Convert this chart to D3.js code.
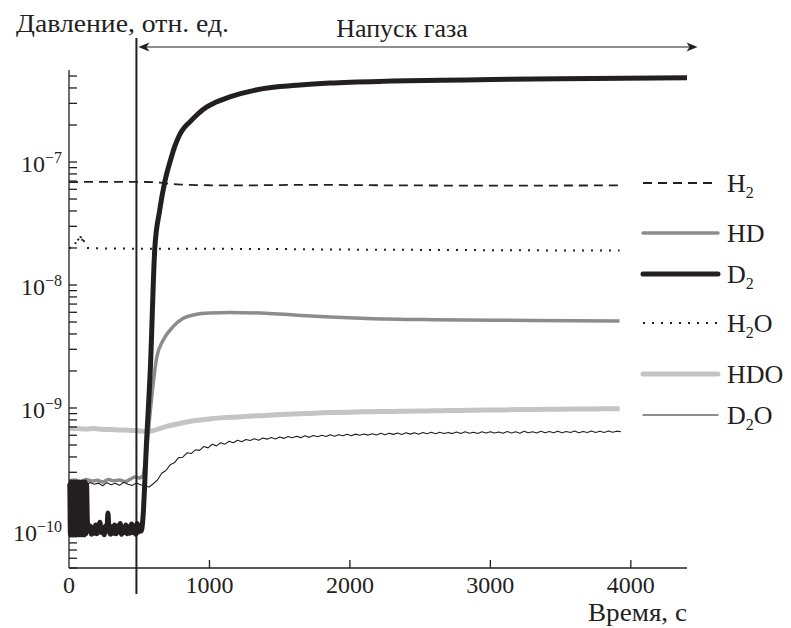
<!DOCTYPE html>
<html>
<head>
<meta charset="utf-8">
<script src="https://cdnjs.cloudflare.com/ajax/libs/d3/7.8.5/d3.min.js"></script>
<style>
body { margin: 0; background: #fff; }
text { font-family: "Liberation Serif", "DejaVu Serif", serif; fill: #231f20; }
</style>
</head>
<body>
<script>
var inletTime = 480
var arrowEndTime = 4475

var xTicks = [0, 1000, 2000, 3000, 4000]
var yMajorTicks = [1e-10, 1e-9, 1e-8, 1e-7]

// H2, units 1e-8
var h2Time = [0, 200, 400, 550, 650, 720, 800, 900, 1000, 1200, 1500, 1800, 2100, 2500, 3000, 3500, 3920]
var h2Values = [6.85, 6.9, 6.9, 6.88, 6.8, 6.65, 6.55, 6.5, 6.47, 6.45, 6.5, 6.52, 6.48, 6.45, 6.42, 6.44, 6.45]

// H2O, units 1e-8
var h2oTime = [0, 40, 55, 70, 80, 90, 100, 110, 125, 300, 600, 1000, 1500, 2000, 2500, 3000, 3500, 3920]
var h2oValues = [2.0, 2.02, 2.45, 2.3, 2.55, 2.2, 2.5, 2.1, 2.0, 1.98, 1.97, 1.97, 1.96, 1.94, 1.93, 1.92, 1.91, 1.91]

// HD, units 1e-9
var hdTime = [0, 40, 80, 120, 160, 200, 240, 280, 320, 360, 400, 440, 470, 500, 525, 550, 575, 600, 625, 670, 740, 810, 900, 1000, 1150, 1400, 1620, 1860, 2120, 2600, 3300, 3920]
var hdValues = [0.255, 0.26, 0.25, 0.262, 0.255, 0.258, 0.25, 0.262, 0.256, 0.26, 0.252, 0.265, 0.275, 0.27, 0.28, 0.42, 0.85, 1.6, 2.6, 3.55, 4.57, 5.33, 5.75, 5.92, 5.97, 5.9, 5.68, 5.5, 5.35, 5.22, 5.15, 5.1]

// HDO, units 1e-10
var hdoTime = [0, 60, 120, 180, 240, 300, 360, 420, 480, 540, 600, 660, 720, 780, 840, 900, 1000, 1100, 1200, 1300, 1400, 1500, 1600, 1700, 1800, 1900, 2000, 2100, 2200, 2300, 2400, 2500, 2600, 2700, 2800, 2900, 3000, 3100, 3200, 3300, 3400, 3500, 3600, 3700, 3800, 3920]
var hdoValues = [6.85, 6.8, 6.75, 6.8, 6.7, 6.68, 6.62, 6.6, 6.55, 6.45, 6.55, 6.9, 7.2, 7.45, 7.7, 7.9, 8.15, 8.35, 8.45, 8.6, 8.7, 8.85, 8.95, 9.0, 9.15, 9.2, 9.25, 9.3, 9.35, 9.38, 9.42, 9.45, 9.5, 9.52, 9.55, 9.6, 9.62, 9.65, 9.7, 9.72, 9.75, 9.78, 9.8, 9.82, 9.85, 9.88]

// D2, units 1e-10
var d2Time = [0, 5, 10, 15, 20, 25, 30, 35, 40, 45, 50, 55, 60, 65, 70, 75, 80, 85, 90, 95, 100, 105, 110, 115, 120, 125, 130, 135,
	140, 150, 160, 170, 180, 190, 200, 210, 220, 230, 240, 250, 260, 270, 277, 285,
	295, 305, 315, 325, 335, 345, 355, 365, 375, 385, 395, 405, 415, 425, 435, 445, 455, 465, 475, 485, 495, 505, 515,
	527, 551, 580, 611, 645, 682, 722, 755, 789, 820, 860, 908, 960, 1024, 1145, 1381, 1620, 1858, 2300, 2831, 3500, 4400]
var d2Values = [2.5, 2.45, 0.93, 2.5, 0.95, 2.45, 0.93, 2.5, 0.95, 2.45, 0.93, 2.5, 0.95, 2.45, 0.93, 2.5, 0.95, 2.45, 0.93, 2.5, 0.95, 2.45, 0.93, 2.5, 0.95, 2.4, 1.3, 1.05,
	1.0, 1.1, 0.94, 1.06, 0.96, 1.12, 0.95, 1.08, 1.18, 0.97, 1.05, 0.93, 1.1, 1.0, 1.4, 1.02,
	0.94, 1.08, 0.96, 1.12, 0.95, 1.1, 0.98, 1.15, 0.94, 1.06, 0.97, 1.12, 0.95, 1.08, 0.96, 1.14, 0.97, 1.1, 0.94, 1.15, 0.98, 1.1, 1.0,
	1.3, 5, 22, 200, 400, 690, 1030, 1360, 1680, 1900, 2120, 2400, 2700, 2980, 3380, 3950, 4200, 4390, 4550, 4650, 4760, 4850]

// D2O, units 1e-10, sampled every 30 s from 0 s
var d2oStep = 30
var d2oValues = [2.45, 2.36, 2.5, 2.4, 2.34, 2.48, 2.4, 2.45, 2.33, 2.47,
	2.38, 2.44, 2.35, 2.49, 2.4, 2.34, 2.46, 2.38, 2.32, 2.28,
	2.42, 2.6, 2.95, 3.1, 3.45, 3.58, 3.95, 3.98, 4.32, 4.26,
	4.57, 4.52, 4.87, 4.74, 5.07, 4.92, 5.22, 5.08, 5.37, 5.22,
	5.47, 5.32, 5.54, 5.44, 5.63, 5.46, 5.7, 5.58, 5.75, 5.6,
	5.82, 5.66, 5.86, 5.73, 5.89, 5.74, 5.95, 5.77, 5.98, 5.84,
	6.01, 5.87, 6.05, 5.89, 6.07, 5.94, 6.11, 5.95, 6.13, 6.0,
	6.15, 6.02, 6.17, 6.03, 6.22, 6.05, 6.23, 6.1, 6.26, 6.09,
	6.28, 6.13, 6.29, 6.12, 6.32, 6.17, 6.34, 6.17, 6.36, 6.21,
	6.33, 6.19, 6.38, 6.21, 6.4, 6.24, 6.36, 6.2, 6.41, 6.25,
	6.42, 6.25, 6.39, 6.24, 6.44, 6.26, 6.41, 6.24, 6.46, 6.29,
	6.41, 6.27, 6.47, 6.28, 6.43, 6.3, 6.48, 6.29, 6.44, 6.31,
	6.49, 6.3, 6.45, 6.33, 6.5, 6.31, 6.46, 6.32, 6.51, 6.34,
	6.48, 6.4]

var legendLabels = [["H", "2", ""], ["HD", "", ""], ["D", "2", ""], ["H", "2", "O"], ["HD", "", "O"], ["D", "2", "O"]]

var width = 791, height = 628
var textSize = 26, digitSize = 24, smallSize = 16

var svg = d3.select("body").append("svg")
	.attr("width", width).attr("height", height)

var x = d3.scaleLinear().domain([0, 4400]).range([69, 687])
var y = d3.scaleLog().domain([5e-11, 5.6e-7]).range([568, 70])

function toPoints(times, values, unit) {
	var pts = []
	for (var i = 0; i < values.length; i++) {
		pts.push({t: times[i], v: values[i] * unit})
	}
	return pts
}

var d2oTime = d2oValues.map(function(d, i) { return i * d2oStep })

var series = {
	HDO: {pts: toPoints(hdoTime, hdoValues, 1e-10), color: "#c4c4c4", w: 5, dash: null, curve: d3.curveMonotoneX},
	HD: {pts: toPoints(hdTime, hdValues, 1e-9), color: "#8c8c8c", w: 3.5, dash: null, curve: d3.curveMonotoneX},
	D2O: {pts: toPoints(d2oTime, d2oValues, 1e-10), color: "#231f20", w: 1.1, dash: null, curve: d3.curveLinear},
	H2: {pts: toPoints(h2Time, h2Values, 1e-8), color: "#231f20", w: 1.8, dash: "9,6", curve: d3.curveMonotoneX},
	H2O: {pts: toPoints(h2oTime, h2oValues, 1e-8), color: "#231f20", w: 2, dash: "2,7", curve: d3.curveLinear},
	D2: {pts: toPoints(d2Time, d2Values, 1e-10), color: "#231f20", w: 5, dash: null, curve: d3.curveMonotoneX}
}

var plot = svg.append("g")
for (var name in series) {
	var s = series[name]
	var line = d3.line().x(function(d) { return x(d.t) }).y(function(d) { return y(d.v) }).curve(s.curve)
	plot.append("path").datum(s.pts)
		.attr("d", line)
		.attr("fill", "none")
		.attr("stroke", s.color)
		.attr("stroke-width", s.w)
		.attr("stroke-dasharray", s.dash)
		.attr("stroke-linejoin", "round")
}

// axes
var axes = svg.append("g").attr("stroke", "#231f20").attr("stroke-width", 1.3)
axes.append("line").attr("x1", x(0)).attr("x2", x(0)).attr("y1", y.range()[1]).attr("y2", y.range()[0])
axes.append("line").attr("x1", x(0)).attr("x2", x(4400)).attr("y1", y.range()[0]).attr("y2", y.range()[0])

var minorTicks = []
for (var e = -11; e <= -7; e++) {
	for (var m = 1; m <= 9; m++) {
		var v = m * Math.pow(10, e)
		if (v >= 5e-11 * 0.999 && v <= 5.6e-7) minorTicks.push(v)
	}
}
axes.selectAll(".ytick").data(minorTicks).enter().append("line")
	.attr("x1", x(0)).attr("x2", x(0) + 8)
	.attr("y1", function(d) { return y(d) }).attr("y2", function(d) { return y(d) })

axes.selectAll(".xtick").data(xTicks.slice(1)).enter().append("line")
	.attr("x1", function(d) { return x(d) }).attr("x2", function(d) { return x(d) })
	.attr("y1", y.range()[0]).attr("y2", y.range()[0] - 8)

svg.selectAll(".xlab").data(xTicks).enter().append("text")
	.attr("x", function(d) { return x(d) }).attr("y", 593)
	.attr("text-anchor", "middle").attr("font-size", digitSize)
	.text(function(d) { return d })

svg.selectAll(".ylab").data(yMajorTicks).enter().append("text")
	.attr("x", 62).attr("y", function(d) { return y(d) + 10 })
	.attr("text-anchor", "end").attr("font-size", digitSize)
	.each(function(d) {
		var t = d3.select(this)
		t.append("tspan").text("10")
		t.append("tspan").attr("dy", -9).attr("font-size", smallSize).text("\u2212" + Math.round(-Math.log10(d)))
	})

svg.append("text").attr("x", 16).attr("y", 32).attr("font-size", textSize)
	.attr("textLength", 213).attr("lengthAdjust", "spacingAndGlyphs").text("Давление, отн. ед.")
svg.append("text").attr("x", 588).attr("y", 621).attr("font-size", textSize)
	.attr("textLength", 99).attr("lengthAdjust", "spacingAndGlyphs").text("Время, с")

// gas inlet marker and arrow
svg.append("line").attr("x1", x(inletTime)).attr("x2", x(inletTime)).attr("y1", 38).attr("y2", 594)
	.attr("stroke", "#231f20").attr("stroke-width", 2)
var ay = 47, ax1 = x(inletTime) + 2, ax2 = x(arrowEndTime)
svg.append("line").attr("x1", ax1 + 4).attr("x2", ax2 - 4).attr("y1", ay).attr("y2", ay)
	.attr("stroke", "#231f20").attr("stroke-width", 1.2)
svg.append("path").attr("d", "M" + ax1 + "," + ay + "l11,-4.5l-3,4.5l3,4.5z").attr("fill", "#231f20")
svg.append("path").attr("d", "M" + ax2 + "," + ay + "l-11,-4.5l3,4.5l-3,4.5z").attr("fill", "#231f20")
svg.append("text").attr("x", 402).attr("y", 37).attr("text-anchor", "middle").attr("font-size", textSize).text("Напуск газа")

// legend
var legendOrder = ["H2", "HD", "D2", "H2O", "HDO", "D2O"]
var legendRows = [183, 233, 274, 323, 374, 415]
for (var i = 0; i < legendOrder.length; i++) {
	var s = series[legendOrder[i]]
	var ly = legendRows[i]
	svg.append("line").attr("x1", 643).attr("x2", 718).attr("y1", ly).attr("y2", ly)
		.attr("stroke", s.color).attr("stroke-width", s.w)
		.attr("stroke-dasharray", s.dash).attr("stroke-linecap", s.dash ? null : "round")
	var lab = legendLabels[i]
	var txt = svg.append("text").attr("x", 727).attr("y", ly + 9).attr("font-size", textSize)
	txt.append("tspan").text(lab[0])
	if (lab[1]) txt.append("tspan").attr("dy", 6).attr("font-size", smallSize).text(lab[1])
	if (lab[2]) txt.append("tspan").attr("dy", lab[1] ? -6 : 0).text(lab[2])
}
</script>
</body>
</html>
